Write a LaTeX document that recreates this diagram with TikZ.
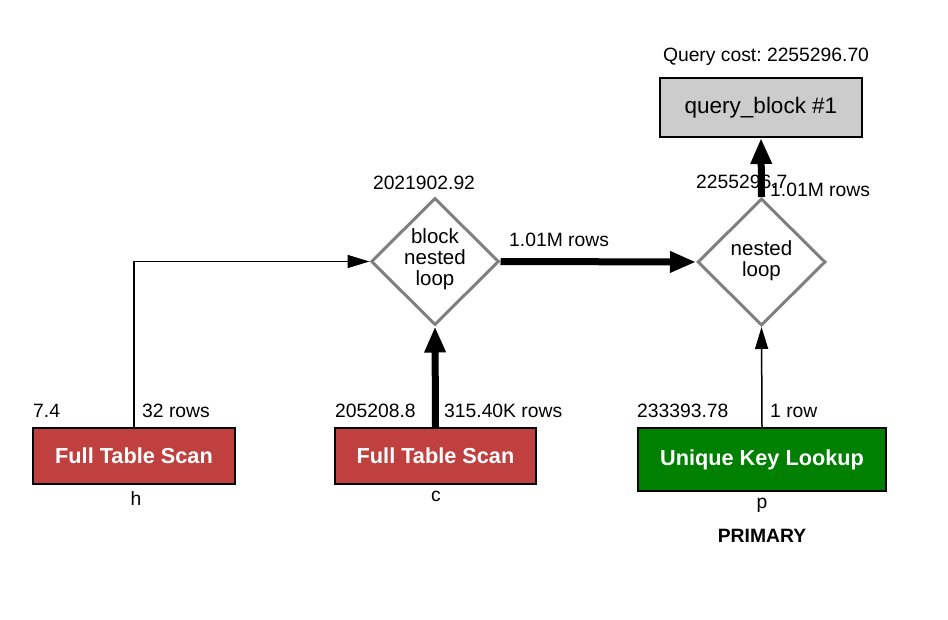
\documentclass[tikz,border=0pt]{standalone}
\usepackage{fontspec}
\setmainfont{Liberation Sans}
\usetikzlibrary{shapes.geometric,arrows.meta}
\definecolor{scanred}{HTML}{C04040}
\definecolor{keygreen}{HTML}{008000}
\definecolor{qbgray}{HTML}{CCCCCC}
\definecolor{dgray}{HTML}{808080}
\frenchspacing
\begin{document}
\begin{tikzpicture}[x=1pt,y=-1pt,
  lbl/.style={inner sep=0pt,font=\fontsize{19.3}{22}\selectfont},
  opbox/.style={draw=black,line width=2pt,inner sep=0pt,text=white,font=\fontsize{21.7}{24}\selectfont\bfseries},
  joinnode/.style={diamond,draw=dgray,line width=3pt,inner sep=0pt,minimum width=128pt,minimum height=127pt},
  jtext/.style={align=center,inner sep=0pt,font=\fontsize{20.5}{21}\selectfont},
  thinarrow/.style={line width=1.5pt,-{Triangle[length=22pt,width=13pt]}},
  thickarrow/.style={line width=7pt,-{Triangle[length=26pt,width=20pt]}}]
\useasboundingbox (0,0) rectangle (948,620);
% boxes
\node[opbox,fill=scanred,minimum width=202pt,minimum height=56pt] (h) at (134,456) {Full Table Scan};
\node[opbox,fill=scanred,minimum width=201pt,minimum height=56pt] (c) at (435.5,456) {Full Table Scan};
\node[opbox,fill=keygreen,minimum width=248pt,minimum height=63pt] (p) at (762,459.5) {Unique Key Lookup};
\node[draw=black,line width=2pt,fill=qbgray,inner sep=0pt,minimum width=202pt,minimum height=59pt,font=\fontsize{22.5}{24}\selectfont] (qb) at (761,107.5) {query\_block \#1};
% diamonds
\node[joinnode] (d1) at (435,261.5) {};
\node[jtext] (d1t) at (435,259) {block\\nested\\loop};
\node[joinnode] (d2) at (761.5,262) {};
\node[jtext] (d2t) at (761.5,261) {nested\\loop};
% connectors
\draw[thinarrow] (h.north) |- (d1.west);
\draw[thickarrow] (c.north) -- (d1.south);
\draw[thickarrow] (d1.east) -- (d2.west);
\draw[thinarrow] (p.north) -- (d2.south);
\draw[thickarrow] (d2.north) -- (qb.south);
% labels
\node[lbl,anchor=base west] (l74) at (33,417) {7.4};
\node[lbl,anchor=base west] (l32) at (142,417) {32 rows};
\node[lbl,anchor=base west] (lc1) at (335,417) {205208.8};
\node[lbl,anchor=base west] (lc2) at (444,417) {315.40K rows};
\node[lbl,anchor=base west] (lp1) at (637,417) {233393.78};
\node[lbl,anchor=base west] (lp2) at (770,417) {1 row};
\node[lbl,anchor=base] (ld1) at (424,190) {2021902.92};
\node[lbl,anchor=base west] (ld12) at (509,247) {1.01M rows};
\node[lbl,anchor=base west] (ld2) at (696,189) {2255296.7};
\node[lbl,anchor=base west] (ld2r) at (770,197) {1.01M rows};
\node[lbl,anchor=base] (lq) at (766,62) {Query cost: 2255296.70};
\node[lbl,anchor=base] (th) at (136,505) {h};
\node[lbl,anchor=base] (tc) at (436,501) {c};
\node[lbl,anchor=base] (tp) at (762,508) {p};
\node[lbl,anchor=base,font=\fontsize{19.3}{22}\selectfont\bfseries] (tk) at (762,542) {PRIMARY};
\end{tikzpicture}
\end{document}
